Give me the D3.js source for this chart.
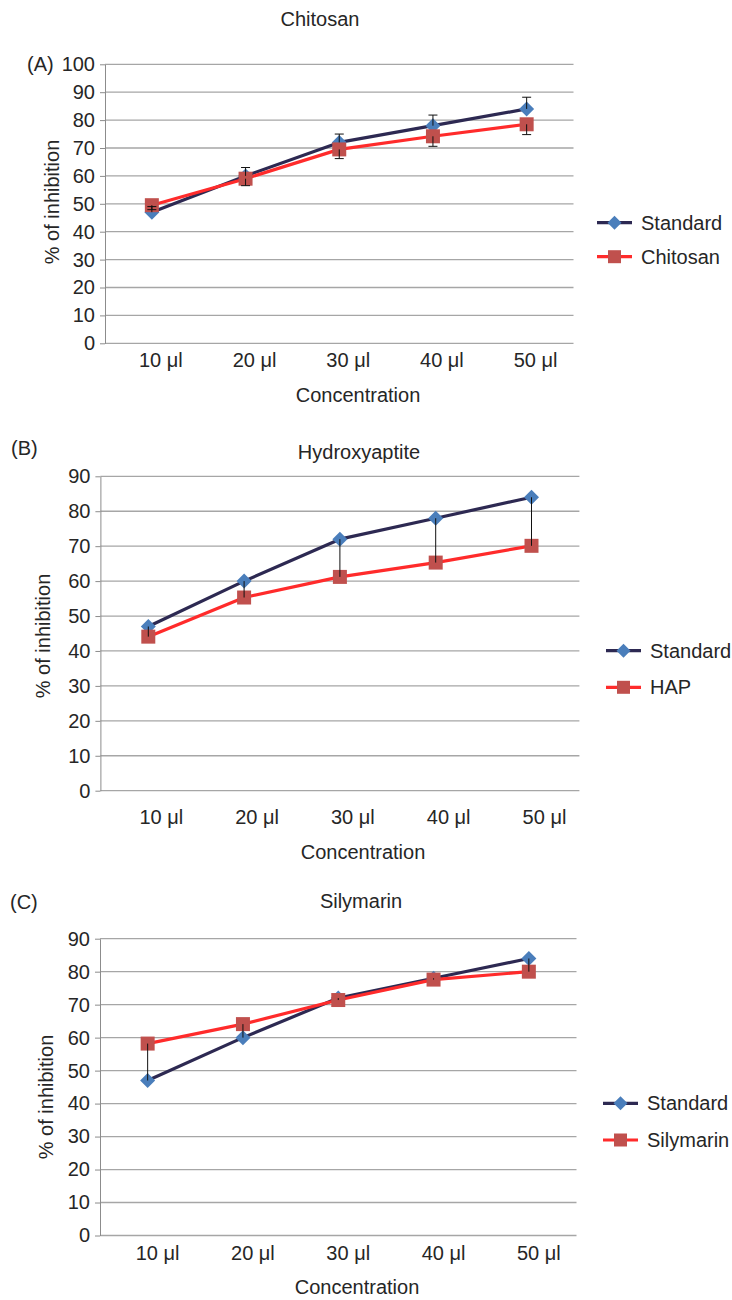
<!DOCTYPE html>
<meta charset="utf-8">
<style>
body { margin: 0; background: #fff; }
svg { display: block; font-family: "Liberation Sans", Arial, sans-serif; }
.tick-label, .cat-label, .axis-title, .panel-title, .panel-letter, .legend text { fill: #262626; }
.grid line { stroke: #a6a6a6; stroke-width: 1.3px; }
.yaxis path { stroke: #8c8c8c; }
.yaxis line { stroke: #8c8c8c; }
.yaxis text { font-size: 20px; fill: #262626; }
</style>
<body>
<div id="chart"></div>
<script src="https://cdn.jsdelivr.net/npm/d3@7"></script>
<script>
// ---- data ----
var concentrations = ["10 μl", "20 μl", "30 μl", "40 μl", "50 μl"];
var standardValues = [47, 60, 72, 78, 84];
var standardErrA = [2, 3, 3, 3.8, 4.2];
var chitosanValues = [49.5, 59, 69.5, 74.2, 78.5];
var chitosanErr = [1.6, 2.5, 3.3, 3.6, 3.7];
var hapValues = [44.1, 55.3, 61.2, 65.3, 70.1];
var silymarinValues = [58.2, 64.1, 71.4, 77.6, 80];
var yTicksA = [0, 10, 20, 30, 40, 50, 60, 70, 80, 90, 100];
var yTicksBC = [0, 10, 20, 30, 40, 50, 60, 70, 80, 90];

var colors = {
    stdLine: "#2d2952", stdMarker: "#4a7ebb",
    redLine: "#ff2b2b", redMarker: "#c0504d"
};

var svg = d3.select("#chart").append("svg")
    .attr("width", 732)
    .attr("height", 1300);

function diamond(s) {
    return "M0," + (-s) + "L" + s + ",0L0," + s + "L" + (-s) + ",0Z";
}
function square(s) {
    return "M" + (-s) + "," + (-s) + "h" + (2 * s) + "v" + (2 * s) + "h" + (-2 * s) + "Z";
}

function drawPanel(p) {
    var x = d3.scaleBand().domain(concentrations).range([p.left, p.right]);
    var y = d3.scaleLinear().domain([0, p.ymax]).range([p.bottom, p.top]);
    var cx = function(d) { return x(d) + x.bandwidth() / 2; };
    var g = svg.append("g");

    // gridlines
    g.append("g").attr("class", "grid")
        .selectAll("line").data(p.ticks).enter().append("line")
        .attr("x1", p.left).attr("x2", p.right)
        .attr("y1", function(d) { return y(d); })
        .attr("y2", function(d) { return y(d); });

    // y axis
    var yAxis = d3.axisLeft(y).tickValues(p.ticks).tickSize(5).tickSizeOuter(0).tickPadding(5);
    g.append("g").attr("class", "yaxis")
        .attr("transform", "translate(" + p.left + ",0)")
        .call(yAxis)
        .call(function(a) { a.selectAll("text").attr("font-family", null).attr("font-size", null); });

    // category labels
    g.selectAll(".cat-label").data(concentrations).enter().append("text")
        .attr("class", "cat-label")
        .attr("x", function(d) { return cx(d) + p.labelShift; })
        .attr("y", p.catY)
        .attr("dy", "0.35em")
        .attr("text-anchor", "middle")
        .style("font-size", "20px")
        .text(function(d) { return d; });

    g.append("text").attr("class", "axis-title")
        .attr("x", p.xTitleX).attr("y", p.xTitleY).attr("dy", "0.35em")
        .attr("text-anchor", "middle").style("font-size", "20px")
        .text("Concentration");

    g.append("text").attr("class", "axis-title")
        .attr("transform", "translate(" + p.yTitleX + "," + p.yTitleY + ") rotate(-90)")
        .attr("dy", "0.35em")
        .attr("text-anchor", "middle").style("font-size", "20px")
        .text("% of inhibition");

    g.append("text").attr("class", "panel-title")
        .attr("x", p.titleX).attr("y", p.titleY).attr("dy", "0.35em")
        .attr("text-anchor", "middle").style("font-size", "20px")
        .text(p.title);

    g.append("text").attr("class", "panel-letter")
        .attr("x", p.letterX).attr("y", p.letterY).attr("dy", "0.35em")
        .style("font-size", "20px")
        .text(p.letter);

    var line = d3.line()
        .x(function(d, i) { return cx(concentrations[i]); })
        .y(function(d) { return y(d); });

    var series = [
        { name: "Standard", values: standardValues, lc: colors.stdLine, mc: colors.stdMarker, shape: diamond, size: 7.5 },
        { name: p.second, values: p.secondValues, lc: colors.redLine, mc: colors.redMarker, shape: square, size: 7 }
    ];

    series.forEach(function(s) {
        g.append("path").datum(s.values)
            .attr("fill", "none")
            .attr("stroke", s.lc)
            .attr("stroke-width", 3.2)
            .attr("stroke-linejoin", "round")
            .attr("d", line);
        g.selectAll(null).data(s.values).enter().append("path")
            .attr("transform", function(d, i) { return "translate(" + cx(concentrations[i]) + "," + y(d) + ")"; })
            .attr("d", s.shape(s.size))
            .attr("fill", s.mc);
    });

    // error bars (panel A) or high-low lines (B, C)
    var bars = g.append("g").attr("stroke", "#111").attr("stroke-width", 1);
    if (p.errors) {
        concentrations.forEach(function(c, i) {
            var xs = cx(c);
            var v = standardValues[i], e = standardErrA[i];
            bars.append("line").attr("x1", xs).attr("x2", xs).attr("y1", y(v)).attr("y2", y(v + e));
            bars.append("line").attr("x1", xs - 4.5).attr("x2", xs + 4.5).attr("y1", y(v + e)).attr("y2", y(v + e));
            var w = chitosanValues[i], f = chitosanErr[i];
            bars.append("line").attr("x1", xs).attr("x2", xs).attr("y1", y(w)).attr("y2", y(w - f));
            bars.append("line").attr("x1", xs - 4.5).attr("x2", xs + 4.5).attr("y1", y(w - f)).attr("y2", y(w - f));
        });
    } else {
        concentrations.forEach(function(c, i) {
            var xs = cx(c);
            bars.append("line").attr("x1", xs).attr("x2", xs)
                .attr("y1", y(standardValues[i])).attr("y2", y(p.secondValues[i]));
        });
    }

    // legend
    var lg = g.append("g").attr("class", "legend");
    series.forEach(function(s, i) {
        var ly = p.legendY[i];
        lg.append("line")
            .attr("x1", p.legendX).attr("x2", p.legendX + 35)
            .attr("y1", ly).attr("y2", ly)
            .attr("stroke", s.lc).attr("stroke-width", 3.2);
        lg.append("path")
            .attr("transform", "translate(" + (p.legendX + 17.5) + "," + ly + ")")
            .attr("d", s.shape(s.size - 0.5))
            .attr("fill", s.mc);
        lg.append("text")
            .attr("x", p.legendX + 44).attr("y", ly).attr("dy", "0.35em")
            .style("font-size", "20px")
            .text(s.name);
    });
}

drawPanel({
    letter: "(A)", letterX: 27, letterY: 64,
    title: "Chitosan", titleX: 320, titleY: 19,
    second: "Chitosan", secondValues: chitosanValues, errors: true,
    left: 105, right: 573.5, top: 64.3, bottom: 343.3, ymax: 100, ticks: yTicksA,
    catY: 360, labelShift: 9, xTitleX: 358, xTitleY: 395,
    yTitleX: 52, yTitleY: 202,
    legendX: 597, legendY: [222.7, 256.7]
});

drawPanel({
    letter: "(B)", letterX: 11, letterY: 448,
    title: "Hydroxyaptite", titleX: 359, titleY: 452,
    second: "HAP", secondValues: hapValues, errors: false,
    left: 100.4, right: 579.4, top: 476.3, bottom: 790.7, ymax: 90, ticks: yTicksBC,
    catY: 816.7, labelShift: 13, xTitleX: 363, xTitleY: 851.7,
    yTitleX: 43, yTitleY: 636,
    legendX: 606, legendY: [650.7, 687.3]
});

drawPanel({
    letter: "(C)", letterX: 10, letterY: 902,
    title: "Silymarin", titleX: 361, titleY: 901,
    second: "Silymarin", secondValues: silymarinValues, errors: false,
    left: 100, right: 576.5, top: 938.7, bottom: 1235.5, ymax: 90, ticks: yTicksBC,
    catY: 1252.7, labelShift: 10, xTitleX: 357, xTitleY: 1287,
    yTitleX: 46, yTitleY: 1097,
    legendX: 603, legendY: [1103.3, 1140]
});
</script>
</body>
